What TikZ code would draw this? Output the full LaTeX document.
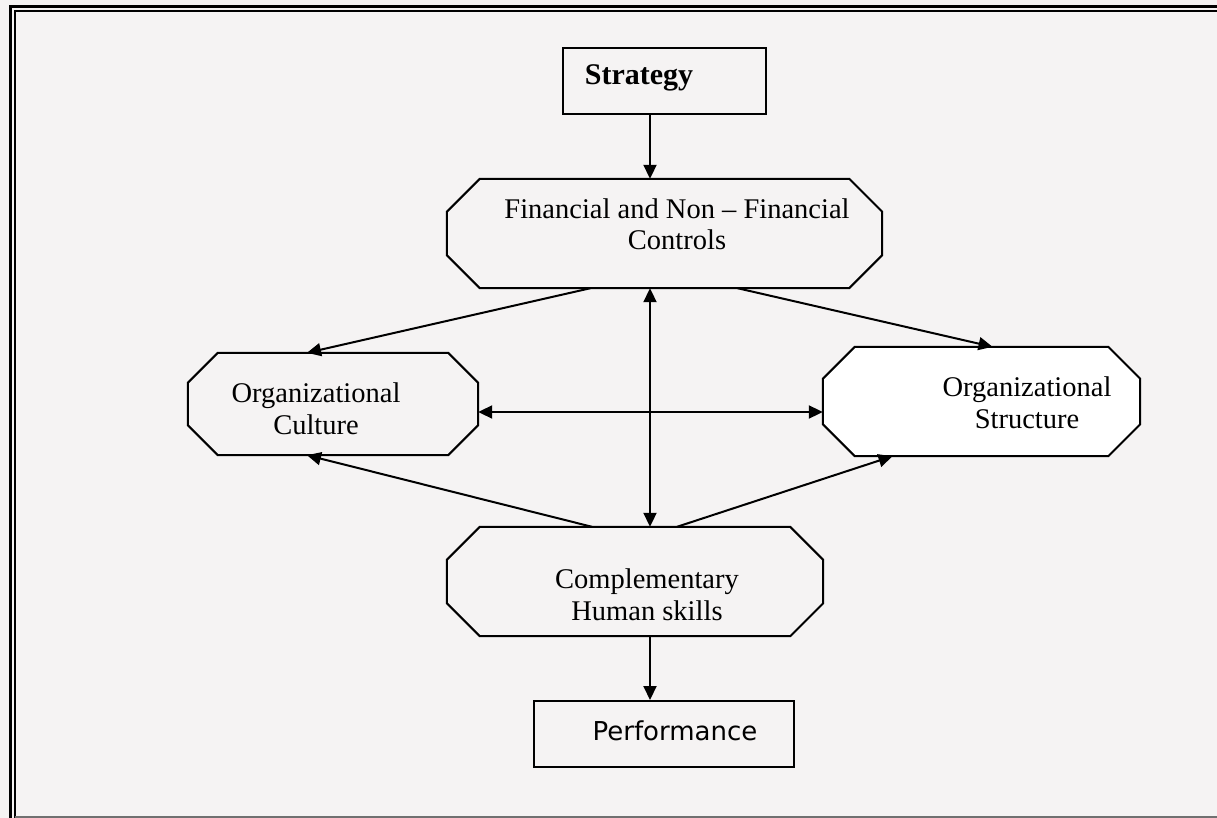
\documentclass[tikz,border=0pt]{standalone}
\usepackage{fontspec}
\setmainfont{Liberation Serif}
\newfontfamily\perffont{DejaVu Sans}
\usetikzlibrary{arrows.meta}
\definecolor{paper}{RGB}{245,243,243}
\definecolor{rulegray}{RGB}{112,112,112}
\tikzset{
	octbox/.style={rectangle,inner sep=0pt},
	plainbox/.style={rectangle,draw,line width=2pt,inner sep=0pt},
	boxtext/.style={align=center,font=\fontsize{28.5}{32}\selectfont,anchor=base,inner sep=0pt},
	link/.style={line width=2pt,-{Triangle[length=14pt,width=13pt]}},
	biglink/.style={line width=2pt,{Triangle[length=14pt,width=13pt]}-{Triangle[length=14pt,width=13pt]}}
}
\begin{document}
\begin{tikzpicture}[x=1pt,y=-1pt]
	\fill[paper] (0,0) rectangle (1217,818);
	\useasboundingbox (0,0) rectangle (1217,818);
	\draw[line width=3pt] (10.5,818) -- (10.5,6.5) -- (1217,6.5);
	\draw[line width=2pt] (15,818) -- (15,11) -- (1217,11);
	\draw[rulegray,line width=1.5pt] (15,817) -- (1217,817);
	\coordinate (axis) at (650,412);
	\node[plainbox,minimum width=203pt,minimum height=66pt] (strat) at (664.5,81) {};
	\node[octbox,minimum width=435pt,minimum height=109pt] (fin) at (664.5,233.5) {};
	\node[octbox,minimum width=290pt,minimum height=102pt] (cult) at (333,404) {};
	\node[octbox,minimum width=317pt,minimum height=109pt] (struct) at (981.5,401.5) {};
	\node[octbox,minimum width=376pt,minimum height=109pt] (comp) at (635,581.5) {};
	\node[plainbox,minimum width=260pt,minimum height=66pt] (perf) at (664,734) {};
	\foreach \n/\c/\f in {fin/33/paper,cult/30/paper,struct/32/white,comp/33/paper}
	\filldraw[fill=\f,line width=2pt] ([xshift=\c pt]\n.north west) -- ([xshift=-\c pt]\n.north east) -- ([yshift=-\c pt]\n.north east) -- ([yshift=\c pt]\n.south east) -- ([xshift=-\c pt]\n.south east) -- ([xshift=\c pt]\n.south west) -- ([yshift=\c pt]\n.south west) -- ([yshift=-\c pt]\n.north west) -- cycle;
	\node[boxtext,font=\fontsize{30}{32}\selectfont\bfseries] (strat-txt) at (639,85) {Strategy};
	\node[boxtext] (fin-txt) at (677,250) {Financial and Non – Financial\\Controls};
	\node[boxtext] (cult-txt) at (316,434) {Organizational\\Culture};
	\node[boxtext] (struct-txt) at (1027,428) {Organizational\\Structure};
	\node[boxtext] (comp-txt) at (647,620) {Complementary\\Human skills};
	\node[boxtext,font=\fontsize{26}{30}\perffont] (perf-txt) at (675,740) {Performance};
	\draw[link] (strat.south -| axis) -- (fin.north -| axis);
	\draw[link] (comp.south -| axis) -- (perf.north -| axis);
	\draw[biglink] (fin.south -| axis) -- (comp.north -| axis);
	\draw[biglink] (cult.east |- axis) -- (struct.west |- axis);
	\draw[link] ([xshift=-74pt]fin.south) -- ([xshift=-26pt]cult.north);
	\draw[link] ([xshift=73pt]fin.south) -- ([xshift=11pt]struct.north);
	\draw[link] ([xshift=-43pt]comp.north) -- ([xshift=-26pt]cult.south);
	\draw[link] ([xshift=42pt]comp.north) -- ([xshift=-89pt]struct.south);
\end{tikzpicture}
\end{document}
